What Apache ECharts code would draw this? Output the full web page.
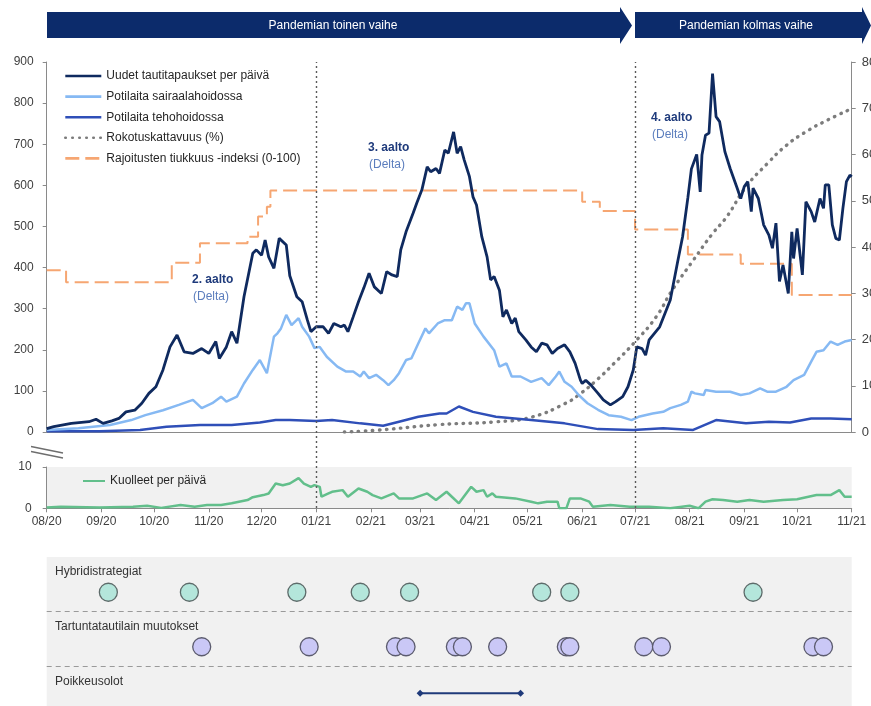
<!DOCTYPE html>
<html>
<head>
<meta charset="utf-8">
<script src="https://cdn.jsdelivr.net/npm/echarts@6/dist/echarts.min.js"></script>
<style>
  html, body { margin: 0; padding: 0; background: #ffffff; }
  #chart { width: 871px; height: 706px; }
</style>
</head>
<body>
<div id="chart"></div>
<script>
// Month ticks shared by every date axis
const monthTicks = ['2020-08-01','2020-09-01','2020-10-01','2020-11-01','2020-12-01','2021-01-01','2021-02-01','2021-03-01','2021-04-01','2021-05-01','2021-06-01','2021-07-01','2021-08-01','2021-09-01','2021-10-01','2021-11-01'];
const monthLabels = ['08/20','09/20','10/20','11/20','12/20','01/21','02/21','03/21','04/21','05/21','06/21','07/21','08/21','09/21','10/21','11/21'];

// Phase boundaries
const phaseDates = ['2021-01-01', '2021-07-01'];
const phaseNames = ['Pandemian toinen vaihe', 'Pandemian kolmas vaihe'];

// New cases per day
const casesData = [
  ['2020-08-01', 8], ['2020-08-05', 13], ['2020-08-15', 21], ['2020-08-25', 25], ['2020-08-29', 31],
  ['2020-09-02', 21], ['2020-09-07', 27], ['2020-09-11', 33], ['2020-09-15', 49], ['2020-09-20', 53],
  ['2020-09-24', 70], ['2020-09-28', 94], ['2020-10-02', 110], ['2020-10-06', 151], ['2020-10-10', 207],
  ['2020-10-14', 236], ['2020-10-18', 195], ['2020-10-23', 191], ['2020-10-28', 203], ['2020-11-01', 191],
  ['2020-11-05', 220], ['2020-11-07', 179], ['2020-11-11', 207], ['2020-11-14', 244], ['2020-11-17', 216],
  ['2020-11-21', 329], ['2020-11-26', 435], ['2020-11-28', 443], ['2020-12-01', 430], ['2020-12-03', 467],
  ['2020-12-05', 426], ['2020-12-08', 398], ['2020-12-11', 471], ['2020-12-15', 455], ['2020-12-17', 380],
  ['2020-12-21', 329], ['2020-12-24', 317], ['2020-12-27', 272], ['2020-12-29', 244], ['2021-01-01', 256],
  ['2021-01-05', 256], ['2021-01-08', 240], ['2021-01-11', 264], ['2021-01-15', 256], ['2021-01-17', 260],
  ['2021-01-19', 244], ['2021-01-22', 280], ['2021-01-25', 317], ['2021-01-28', 350], ['2021-01-31', 386],
  ['2021-02-03', 353], ['2021-02-07', 337], ['2021-02-10', 390], ['2021-02-13', 382], ['2021-02-16', 378],
  ['2021-02-18', 443], ['2021-02-21', 487], ['2021-02-25', 532], ['2021-02-27', 556], ['2021-03-02', 589],
  ['2021-03-05', 645], ['2021-03-07', 633], ['2021-03-10', 641], ['2021-03-12', 629], ['2021-03-15', 686],
  ['2021-03-17', 678], ['2021-03-20', 730], ['2021-03-22', 678], ['2021-03-24', 694], ['2021-03-26', 662],
  ['2021-03-29', 621], ['2021-03-31', 572], ['2021-04-02', 552], ['2021-04-05', 475], ['2021-04-08', 426],
  ['2021-04-10', 370], ['2021-04-12', 378], ['2021-04-15', 345], ['2021-04-17', 280], ['2021-04-19', 297],
  ['2021-04-22', 264], ['2021-04-24', 277], ['2021-04-26', 244], ['2021-04-30', 224], ['2021-05-03', 207],
  ['2021-05-06', 195], ['2021-05-09', 216], ['2021-05-12', 212], ['2021-05-15', 191], ['2021-05-18', 203],
  ['2021-05-22', 212], ['2021-05-25', 195], ['2021-05-28', 167], ['2021-05-31', 126], ['2021-06-01', 118],
  ['2021-06-03', 126], ['2021-06-06', 114], ['2021-06-10', 94], ['2021-06-13', 78], ['2021-06-17', 66],
  ['2021-06-20', 74], ['2021-06-24', 86], ['2021-06-27', 110], ['2021-06-30', 151], ['2021-07-02', 207],
  ['2021-07-05', 203], ['2021-07-07', 187], ['2021-07-09', 224], ['2021-07-15', 256], ['2021-07-21', 321],
  ['2021-07-25', 410], ['2021-07-28', 475], ['2021-07-31', 570], ['2021-08-02', 640], ['2021-08-05', 675],
  ['2021-08-07', 584], ['2021-08-08', 674], ['2021-08-10', 722], ['2021-08-12', 727], ['2021-08-14', 872],
  ['2021-08-16', 767], ['2021-08-18', 755], ['2021-08-21', 682], ['2021-08-24', 641], ['2021-08-28', 593],
  ['2021-08-30', 568], ['2021-09-01', 597], ['2021-09-03', 609], ['2021-09-05', 536], ['2021-09-06', 593],
  ['2021-09-09', 568], ['2021-09-12', 504], ['2021-09-15', 479], ['2021-09-17', 447], ['2021-09-19', 508],
  ['2021-09-21', 366], ['2021-09-23', 406], ['2021-09-26', 337], ['2021-09-28', 487], ['2021-09-29', 422],
  ['2021-10-01', 495], ['2021-10-04', 382], ['2021-10-06', 560], ['2021-10-09', 536], ['2021-10-11', 511],
  ['2021-10-14', 568], ['2021-10-16', 544], ['2021-10-17', 601], ['2021-10-19', 601], ['2021-10-21', 504],
  ['2021-10-23', 471], ['2021-10-25', 467], ['2021-10-27', 544], ['2021-10-29', 609], ['2021-10-31', 625],
  ['2021-11-01', 621]
];

// Patients in hospital care
const hospitalData = [
  ['2020-08-01', 5], ['2020-08-19', 9], ['2020-09-06', 17], ['2020-09-18', 29], ['2020-09-26', 41],
  ['2020-10-06', 53], ['2020-10-15', 66], ['2020-10-23', 78], ['2020-10-28', 58], ['2020-11-03', 70],
  ['2020-11-08', 86], ['2020-11-11', 74], ['2020-11-17', 86], ['2020-11-21', 118], ['2020-11-26', 151],
  ['2020-11-30', 175], ['2020-12-04', 143], ['2020-12-08', 232], ['2020-12-10', 240], ['2020-12-12', 252],
  ['2020-12-15', 285], ['2020-12-18', 260], ['2020-12-22', 277], ['2020-12-24', 256], ['2020-12-28', 232],
  ['2020-12-31', 204], ['2021-01-03', 207], ['2021-01-07', 183], ['2021-01-13', 159], ['2021-01-18', 147],
  ['2021-01-22', 147], ['2021-01-26', 135], ['2021-01-28', 147], ['2021-01-31', 131], ['2021-02-04', 139],
  ['2021-02-08', 126], ['2021-02-11', 114], ['2021-02-14', 126], ['2021-02-17', 143], ['2021-02-21', 175],
  ['2021-02-24', 179], ['2021-02-28', 216], ['2021-03-04', 252], ['2021-03-06', 240], ['2021-03-11', 264],
  ['2021-03-15', 272], ['2021-03-19', 272], ['2021-03-22', 305], ['2021-03-25', 297], ['2021-03-27', 313],
  ['2021-03-29', 313], ['2021-04-01', 264], ['2021-04-06', 232], ['2021-04-12', 199], ['2021-04-15', 159],
  ['2021-04-19', 167], ['2021-04-22', 135], ['2021-04-27', 135], ['2021-05-03', 122], ['2021-05-09', 131],
  ['2021-05-13', 114], ['2021-05-17', 135], ['2021-05-19', 147], ['2021-05-22', 122], ['2021-05-26', 110],
  ['2021-05-30', 90], ['2021-06-04', 70], ['2021-06-10', 54], ['2021-06-16', 41], ['2021-06-23', 37],
  ['2021-06-29', 29], ['2021-07-03', 37], ['2021-07-11', 45], ['2021-07-17', 49], ['2021-07-21', 58],
  ['2021-07-27', 66], ['2021-07-31', 74], ['2021-08-02', 98], ['2021-08-04', 94], ['2021-08-09', 90],
  ['2021-08-10', 102], ['2021-08-16', 98], ['2021-08-24', 98], ['2021-08-30', 90], ['2021-09-04', 94],
  ['2021-09-10', 106], ['2021-09-14', 98], ['2021-09-19', 98], ['2021-09-25', 110], ['2021-09-29', 126],
  ['2021-10-05', 139], ['2021-10-09', 171], ['2021-10-12', 195], ['2021-10-16', 199], ['2021-10-20', 220],
  ['2021-10-24', 212], ['2021-10-28', 220], ['2021-11-01', 224]
];

// Patients in intensive care
const icuData = [
  ['2020-08-01', 2], ['2020-08-31', 2], ['2020-09-23', 5], ['2020-10-08', 13], ['2020-10-27', 17],
  ['2020-11-14', 17], ['2020-11-30', 23], ['2020-12-09', 29], ['2020-12-17', 29], ['2021-01-01', 27],
  ['2021-01-10', 29], ['2021-01-26', 21], ['2021-02-08', 15], ['2021-02-17', 25], ['2021-02-28', 37],
  ['2021-03-12', 45], ['2021-03-16', 45], ['2021-03-23', 62], ['2021-03-31', 49], ['2021-04-13', 37],
  ['2021-05-03', 29], ['2021-05-22', 21], ['2021-06-10', 7], ['2021-06-30', 5], ['2021-07-17', 9],
  ['2021-08-03', 5], ['2021-08-16', 29], ['2021-09-02', 21], ['2021-09-15', 25], ['2021-09-27', 23],
  ['2021-10-09', 33], ['2021-10-20', 33], ['2021-11-01', 31]
];

// Vaccination coverage (%), right axis
const vaccinationData = [
  ['2021-01-17', 0], ['2021-02-05', 0.4], ['2021-03-12', 1.6], ['2021-04-13', 2.2], ['2021-05-03', 3.2],
  ['2021-05-22', 6.1], ['2021-05-31', 8.3], ['2021-06-10', 11.5], ['2021-06-19', 14.8], ['2021-07-01', 19.5],
  ['2021-07-13', 24.9], ['2021-07-22', 30.6], ['2021-08-03', 37.1], ['2021-08-14', 42.9], ['2021-08-22', 46.5],
  ['2021-09-02', 53], ['2021-09-14', 58], ['2021-09-25', 62], ['2021-10-06', 64.9], ['2021-10-18', 67.4],
  ['2021-11-01', 69.9]
];

// Stringency index (0-100), right axis, value held until the next change
const stringencyData = [
  ['2020-08-01', 35.0], ['2020-08-12', 32.4], ['2020-10-11', 36.6], ['2020-10-27', 40.8], ['2020-11-23', 42.2],
  ['2020-11-29', 46.6], ['2020-12-04', 48.7], ['2020-12-06', 52.2], ['2021-06-01', 49.8], ['2021-06-11', 47.8],
  ['2021-07-01', 43.8], ['2021-07-31', 38.4], ['2021-08-30', 36.4], ['2021-09-28', 29.6], ['2021-11-01', 29.6]
];

// Deaths per day
const deathsData = [
  ['2020-08-01', 0.2], ['2020-08-09', 0.4], ['2020-08-31', 0.2], ['2020-09-19', 0.4], ['2020-09-27', 0.6],
  ['2020-10-05', 0.1], ['2020-10-16', 0.8], ['2020-10-24', 0.4], ['2020-10-31', 0.8], ['2020-11-08', 0.8],
  ['2020-11-14', 1.2], ['2020-11-23', 2.0], ['2020-11-26', 2.7], ['2020-12-02', 3.2], ['2020-12-05', 3.6],
  ['2020-12-09', 6.0], ['2020-12-13', 5.6], ['2020-12-17', 6.0], ['2020-12-22', 7.3], ['2020-12-25', 6.0],
  ['2020-12-29', 5.2], ['2020-12-31', 5.6], ['2021-01-03', 5.2], ['2021-01-04', 2.8], ['2021-01-08', 3.6],
  ['2021-01-10', 4.0], ['2021-01-16', 4.4], ['2021-01-19', 2.8], ['2021-01-25', 4.8], ['2021-01-30', 4.0],
  ['2021-02-02', 3.2], ['2021-02-07', 2.4], ['2021-02-14', 3.6], ['2021-02-17', 2.4], ['2021-02-25', 2.4],
  ['2021-03-05', 3.6], ['2021-03-10', 2.0], ['2021-03-16', 4.0], ['2021-03-19', 2.8], ['2021-03-23', 1.2],
  ['2021-03-30', 5.2], ['2021-04-02', 4.0], ['2021-04-06', 4.4], ['2021-04-08', 2.8], ['2021-04-11', 3.6],
  ['2021-04-13', 2.8], ['2021-04-24', 2.4], ['2021-05-03', 1.6], ['2021-05-07', 1.2], ['2021-05-12', 1.6],
  ['2021-05-18', 1.6], ['2021-05-19', 0], ['2021-05-23', 0], ['2021-05-25', 2.4], ['2021-05-31', 2.4],
  ['2021-06-05', 1.6], ['2021-06-07', 0.4], ['2021-06-17', 0.8], ['2021-06-28', 0.4], ['2021-07-09', 0.4],
  ['2021-07-21', 0], ['2021-08-01', 0.6], ['2021-08-06', 0], ['2021-08-10', 1.6], ['2021-08-14', 2.2],
  ['2021-08-20', 2.0], ['2021-08-28', 1.6], ['2021-09-04', 2.0], ['2021-09-12', 1.6], ['2021-09-23', 2.0],
  ['2021-10-01', 2.2], ['2021-10-12', 3.2], ['2021-10-20', 3.2], ['2021-10-25', 4.4], ['2021-10-28', 2.8],
  ['2021-11-01', 2.8]
];

// Policy events
const eventRows = ['Hybridistrategiat', 'Tartuntatautilain muutokset', 'Poikkeusolot'];
const hybridDates = ['2020-09-05', '2020-10-21', '2020-12-21', '2021-01-26', '2021-02-23', '2021-05-09', '2021-05-25', '2021-09-06'];
const lawChangeDates = ['2020-10-28', '2020-12-28', '2021-02-15', '2021-02-21', '2021-03-21', '2021-03-25', '2021-04-14', '2021-05-23', '2021-05-25', '2021-07-06', '2021-07-16', '2021-10-10', '2021-10-16'];
const emergencyPeriod = ['2021-03-01', '2021-04-27'];

// Wave annotations
const waveLabels = [
  { title: '2. aalto', sub: '(Delta)', x: 192, y: 280 },
  { title: '3. aalto', sub: '(Delta)', x: 368, y: 148 },
  { title: '4. aalto', sub: '(Delta)', x: 651, y: 118 }
];

const FONT = '"Liberation Sans", Arial, sans-serif';
const TEXT = '#404040';
const AXIS = '#8a8a8a';

// Dates are placed on a numeric millisecond axis so month ticks can be set explicitly
const ms = d => +echarts.time.parse(d);
const toXY = arr => arr.map(([d, v]) => [ms(d), v]);
const tickTimes = monthTicks.map(ms);
const xMin = tickTimes[0];
const xMax = tickTimes[tickTimes.length - 1];
const monthFormatter = v => {
  const i = tickTimes.indexOf(v);
  return i >= 0 ? monthLabels[i] : '';
};

const G_LEFT = 46.7, G_RIGHT = 871 - 851.7;

function dateAxis(gridIndex, withLabels, visible) {
  return {
    type: 'value', gridIndex, min: xMin, max: xMax, show: visible,
    axisLine: { show: true, onZero: false, lineStyle: { color: AXIS, width: 1 } },
    axisTick: { show: withLabels, length: 4, lineStyle: { color: AXIS }, customValues: tickTimes },
    axisLabel: {
      show: withLabels, customValues: tickTimes, formatter: monthFormatter,
      color: TEXT, fontFamily: FONT, fontSize: 12, margin: 7
    },
    splitLine: { show: false }
  };
}

// Legend entries show only the line sample, no point marker
const legendItem = { color: 'transparent', borderWidth: 0, opacity: 0 };

const chart = echarts.init(document.getElementById('chart'), null, { renderer: 'canvas' });

const graphics = [];
// Phase banners
graphics.push({
  type: 'polygon', z: 100,
  shape: { points: [[47, 12], [620, 12], [620, 7], [632, 25.5], [620, 44], [620, 38], [47, 38]] },
  style: { fill: '#0c2b6b' }
});
graphics.push({
  type: 'polygon', z: 100,
  shape: { points: [[635, 12], [862, 12], [862, 7], [871, 25.5], [862, 44], [862, 38], [635, 38]] },
  style: { fill: '#0c2b6b' }
});
graphics.push({ type: 'text', z: 101, x: 333, y: 26, style: { text: phaseNames[0], fill: '#ffffff', font: '12px ' + FONT, align: 'center', verticalAlign: 'middle' } });
graphics.push({ type: 'text', z: 101, x: 746, y: 26, style: { text: phaseNames[1], fill: '#ffffff', font: '12px ' + FONT, align: 'center', verticalAlign: 'middle' } });
// Wave annotations
waveLabels.forEach(w => {
  graphics.push({ type: 'text', z: 101, x: w.x, y: w.y, style: { text: w.title, fill: '#1e3a7b', font: 'bold 12px ' + FONT, verticalAlign: 'middle' } });
  graphics.push({ type: 'text', z: 101, x: w.x + 1, y: w.y + 17, style: { text: w.sub, fill: '#5b7dbd', font: '12px ' + FONT, verticalAlign: 'middle' } });
});
// Axis break marks between the two panels
graphics.push({ type: 'line', z: 101, shape: { x1: 31, y1: 446.5, x2: 63, y2: 453 }, style: { stroke: '#6e6e6e', lineWidth: 1.3 } });
graphics.push({ type: 'line', z: 101, shape: { x1: 31, y1: 451.5, x2: 63, y2: 458 }, style: { stroke: '#6e6e6e', lineWidth: 1.3 } });
// Event row titles
eventRows.forEach((name, i) => {
  graphics.push({ type: 'text', z: 101, x: 55, y: 572 + i * 55, style: { text: name, fill: '#333333', font: '12px ' + FONT, verticalAlign: 'middle' } });
});

// Grids keep their exact box even where axis labels run past the canvas edge
const gridBase = { left: G_LEFT, right: G_RIGHT, outerBoundsMode: 'none', containLabel: false };

const option = {
  animation: false,
  backgroundColor: '#ffffff',
  textStyle: { fontFamily: FONT },
  grid: [
    Object.assign({}, gridBase, { top: 62, height: 370 }),
    Object.assign({}, gridBase, { top: 467, height: 41.3, show: true, backgroundColor: '#f1f1f1', borderWidth: 0 }),
    Object.assign({}, gridBase, { top: 557, height: 163.5, show: true, backgroundColor: '#f1f1f1', borderWidth: 0 }),
    Object.assign({}, gridBase, { top: 62, height: 446 })
  ],
  xAxis: [
    dateAxis(0, false, true),
    dateAxis(1, true, true),
    dateAxis(2, false, false),
    dateAxis(3, false, false)
  ],
  yAxis: [
    {
      type: 'value', gridIndex: 0, min: 0, max: 900, interval: 100,
      axisLine: { show: true, lineStyle: { color: AXIS } },
      axisTick: { show: true, length: 4, lineStyle: { color: AXIS } },
      axisLabel: { color: TEXT, fontFamily: FONT, fontSize: 12, margin: 13 },
      splitLine: { show: false }
    },
    {
      type: 'value', gridIndex: 0, position: 'right', min: 0, max: 80, interval: 10,
      axisLine: { show: true, lineStyle: { color: AXIS } },
      axisTick: { show: true, length: 4, lineStyle: { color: AXIS } },
      axisLabel: { color: TEXT, fontFamily: FONT, fontSize: 13, margin: 10 },
      splitLine: { show: false }
    },
    {
      type: 'value', gridIndex: 1, min: 0, max: 10, interval: 10,
      axisLine: { show: true, lineStyle: { color: AXIS } },
      axisTick: { show: true, length: 4, lineStyle: { color: AXIS } },
      axisLabel: { color: TEXT, fontFamily: FONT, fontSize: 12, margin: 15 },
      splitLine: { show: false }
    },
    { type: 'value', gridIndex: 2, min: 0, max: 3, inverse: true, show: false },
    { type: 'value', gridIndex: 3, min: 0, max: 1, show: false }
  ],
  legend: [
    {
      data: ['Uudet tautitapaukset per päivä', 'Potilaita sairaalahoidossa', 'Potilaita tehohoidossa', 'Rokotuskattavuus (%)', 'Rajoitusten tiukkuus -indeksi (0-100)'],
      orient: 'vertical', left: 59, top: 65, itemWidth: 36, itemHeight: 14, itemGap: 8.6,
      itemStyle: legendItem,
      lineStyle: { width: 2.6 },
      textStyle: { color: '#262626', fontFamily: FONT, fontSize: 12 },
      selectedMode: false
    },
    {
      data: ['Kuolleet per päivä'],
      orient: 'horizontal', left: 77, top: 470, itemWidth: 22, itemHeight: 14,
      itemStyle: legendItem,
      textStyle: { color: '#262626', fontFamily: FONT, fontSize: 12 },
      selectedMode: false
    }
  ],
  series: [
    {
      name: 'Rajoitusten tiukkuus -indeksi (0-100)', type: 'line', xAxisIndex: 0, yAxisIndex: 1,
      step: 'end', data: toXY(stringencyData), symbol: 'none',
      lineStyle: { color: '#f6a672', width: 2, type: [14, 6] }, itemStyle: { color: '#f6a672' }
    },
    {
      name: 'Rokotuskattavuus (%)', type: 'line', xAxisIndex: 0, yAxisIndex: 1,
      smooth: true, data: toXY(vaccinationData), symbol: 'none',
      lineStyle: { color: '#7c7c7c', width: 3.4, type: [0.5, 6.5], cap: 'round' }, itemStyle: { color: '#7c7c7c' }
    },
    {
      name: 'Potilaita tehohoidossa', type: 'line', xAxisIndex: 0, yAxisIndex: 0,
      data: toXY(icuData), symbol: 'none',
      lineStyle: { color: '#2f4fb8', width: 2.5 }, itemStyle: { color: '#2f4fb8' }
    },
    {
      name: 'Potilaita sairaalahoidossa', type: 'line', xAxisIndex: 0, yAxisIndex: 0,
      data: toXY(hospitalData), symbol: 'none',
      lineStyle: { color: '#86b9f3', width: 2.5 }, itemStyle: { color: '#86b9f3' }
    },
    {
      name: 'Uudet tautitapaukset per päivä', type: 'line', xAxisIndex: 0, yAxisIndex: 0,
      data: toXY(casesData), symbol: 'none',
      lineStyle: { color: '#0f2a5f', width: 2.8 }, itemStyle: { color: '#0f2a5f' }
    },
    {
      name: 'Kuolleet per päivä', type: 'line', xAxisIndex: 1, yAxisIndex: 2,
      data: toXY(deathsData), symbol: 'none',
      lineStyle: { color: '#62bf8b', width: 2.5 }, itemStyle: { color: '#62bf8b' }
    },
    // Row separators in the events panel
    {
      type: 'line', xAxisIndex: 2, yAxisIndex: 3, data: [], silent: true,
      markLine: {
        silent: true, symbol: 'none', label: { show: false },
        lineStyle: { color: '#9a9a9a', width: 1.2, type: [5, 4] },
        data: [{ yAxis: 1 }, { yAxis: 2 }]
      }
    },
    {
      type: 'scatter', xAxisIndex: 2, yAxisIndex: 3, z: 5,
      data: hybridDates.map(d => [ms(d), 0.5]),
      symbol: 'circle', symbolSize: 18, symbolOffset: [0, 8],
      itemStyle: { color: '#b4e6db', borderColor: '#5d6b6a', borderWidth: 1.3, opacity: 1 }
    },
    {
      type: 'scatter', xAxisIndex: 2, yAxisIndex: 3, z: 5,
      data: lawChangeDates.map(d => [ms(d), 1.5]),
      symbol: 'circle', symbolSize: 18, symbolOffset: [0, 8],
      itemStyle: { color: '#cac8f6', borderColor: '#5b5b6e', borderWidth: 1.3, opacity: 1 }
    },
    {
      type: 'line', xAxisIndex: 2, yAxisIndex: 3, z: 5,
      data: emergencyPeriod.map(d => [ms(d), 2.5]),
      symbol: 'diamond', symbolSize: 7, showSymbol: true,
      lineStyle: { color: '#1f3a7a', width: 2 }, itemStyle: { color: '#1f3a7a' }
    },
    // Phase boundary lines through both panels
    {
      type: 'line', xAxisIndex: 3, yAxisIndex: 4, data: [], silent: true,
      markLine: {
        silent: true, symbol: 'none', label: { show: false },
        lineStyle: { color: '#5a5a5a', width: 1.4, type: [2, 3] },
        data: phaseDates.map(d => ({ xAxis: ms(d) }))
      }
    }
  ],
  graphic: graphics
};

chart.setOption(option);
</script>
</body>
</html>
